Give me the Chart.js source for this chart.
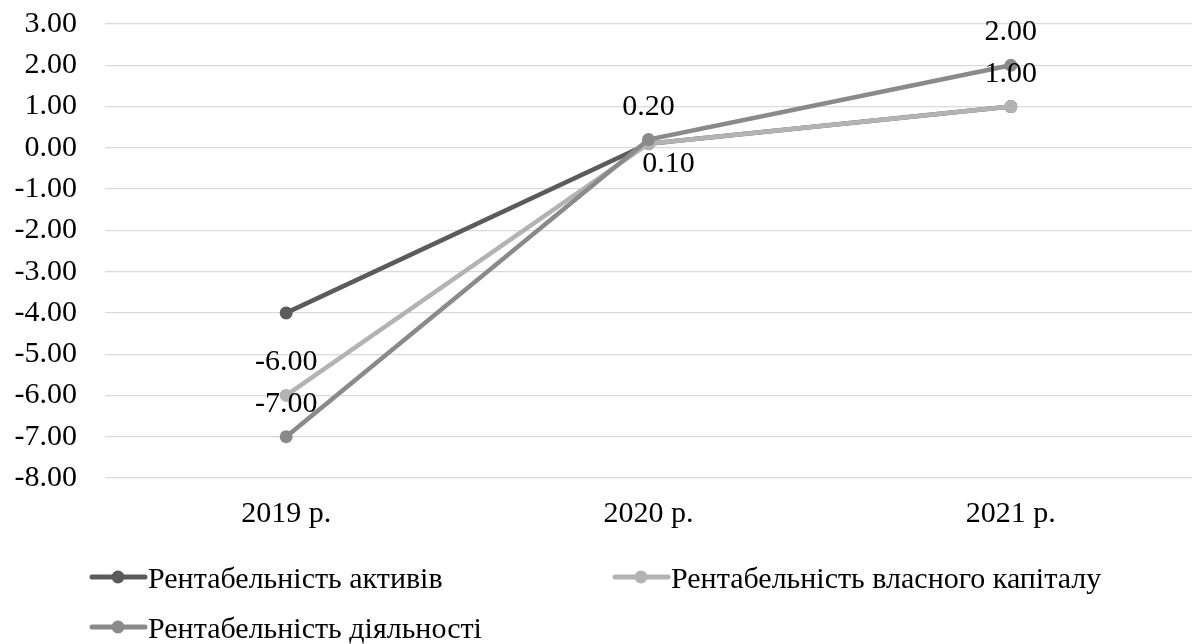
<!DOCTYPE html>
<html>
<head>
<meta charset="utf-8">
<script src="https://cdn.jsdelivr.net/npm/chart.js@4/dist/chart.umd.min.js"></script>
<style>
  html, body { margin: 0; padding: 0; background: #fff; }
  #wrap { width: 1192px; height: 644px; position: relative; }
  canvas { display: block; }
</style>
</head>
<body>
<div id="wrap"><canvas id="chart" width="1192" height="644"></canvas></div>
<script>
// Categories and series
const years = ['2019 р.', '2020 р.', '2021 р.'];
const seriesNames = [
  'Рентабельність активів',
  'Рентабельність власного капіталу',
  'Рентабельність діяльності'
];
const assetsReturn = [-4, 0.1, 1];
const equityReturn = [-6, 0.1, 1];
const operatingReturn = [-7, 0.2, 2];

// Value axis range
const yMin = -8;
const yMax = 3;
const yStep = 1;

const SERIF = '"Liberation Serif", "Times New Roman", serif';
const TEXT_SIZE = 30;
const lineColors = ['#5b5b5b', '#b3b3b3', '#8a8a8a'];

// Points sit in the middle of their category bands, so the plot can run to the canvas edge
Chart.LineController.prototype.getMaxOverflow = function () { return 0; };

// Value labels: placement of each label relative to its point
const labelPlan = {
  1: ['above', 'below', 'above'],
  2: ['above', 'above', 'above']
};

const valueLabels = {
  id: 'valueLabels',
  afterDatasetsDraw(chart) {
    const ctx = chart.ctx;
    ctx.save();
    ctx.font = TEXT_SIZE + 'px ' + SERIF;
    ctx.fillStyle = '#000';
    ctx.textAlign = 'center';
    ctx.textBaseline = 'alphabetic';
    Object.keys(labelPlan).forEach(k => {
      const di = Number(k);
      const meta = chart.getDatasetMeta(di);
      const values = chart.data.datasets[di].data;
      meta.data.forEach((pt, i) => {
        const text = values[i].toFixed(2);
        if (labelPlan[k][i] === 'above') {
          ctx.fillText(text, pt.x, pt.y - 25);
        } else {
          ctx.fillText(text, pt.x + 20, pt.y + 28);
        }
      });
    });
    ctx.restore();
  }
};

// Legend laid out in two columns under the axis
const gridLegend = {
  id: 'gridLegend',
  afterDraw(chart) {
    const ctx = chart.ctx;
    const left = 90, colW = 523, top = 577, rowH = 50;
    ctx.save();
    ctx.font = TEXT_SIZE + 'px ' + SERIF;
    ctx.textBaseline = 'alphabetic';
    ctx.textAlign = 'left';
    chart.data.datasets.forEach((ds, i) => {
      const x = left + (i % 2) * colW;
      const y = top + Math.floor(i / 2) * rowH;
      ctx.strokeStyle = ds.borderColor;
      ctx.lineWidth = 5;
      ctx.lineCap = 'round';
      ctx.beginPath();
      ctx.moveTo(x + 2, y);
      ctx.lineTo(x + 55, y);
      ctx.stroke();
      ctx.fillStyle = ds.borderColor;
      ctx.beginPath();
      ctx.arc(x + 28, y, 6.5, 0, Math.PI * 2);
      ctx.fill();
      ctx.fillStyle = '#000';
      ctx.fillText(ds.label, x + 58, y + 11);
    });
    ctx.restore();
  }
};

const seriesValues = [assetsReturn, equityReturn, operatingReturn];
const lineSets = seriesValues.map((vals, i) => ({
  label: seriesNames[i],
  data: vals,
  borderColor: lineColors[i],
  backgroundColor: lineColors[i],
  pointBackgroundColor: lineColors[i],
  pointBorderColor: lineColors[i],
  pointBorderWidth: 0,
  pointRadius: 6.5,
  borderWidth: 4.5,
  tension: 0,
  order: 3 - i
}));

new Chart(document.getElementById('chart'), {
  type: 'line',
  data: { labels: years, datasets: lineSets },
  options: {
    responsive: false,
    devicePixelRatio: 1,
    animation: false,
    layout: { padding: { top: 24, right: 0, bottom: 0, left: 0 } },
    plugins: {
      legend: { display: false },
      tooltip: { enabled: false }
    },
    scales: {
      x: {
        offset: true,
        grid: { display: false, drawTicks: false },
        border: { display: false },
        ticks: {
          color: '#000',
          font: { family: SERIF, size: TEXT_SIZE },
          padding: 18,
          maxRotation: 0
        },
        afterFit(scale) {
          scale.height = 166;
          scale.paddingLeft = 0;
          scale.paddingRight = 0;
        }
      },
      y: {
        min: yMin,
        max: yMax,
        grid: { color: '#d9d9d9', lineWidth: 1.3, drawTicks: false },
        border: { display: false },
        ticks: {
          stepSize: yStep,
          color: '#000',
          font: { family: SERIF, size: TEXT_SIZE },
          padding: 28,
          callback: v => Number(v).toFixed(2)
        },
        afterFit(scale) {
          scale.width = 105;
          scale.paddingTop = 0;
          scale.paddingBottom = 0;
        }
      }
    }
  },
  plugins: [valueLabels, gridLegend]
});
</script>
</body>
</html>
